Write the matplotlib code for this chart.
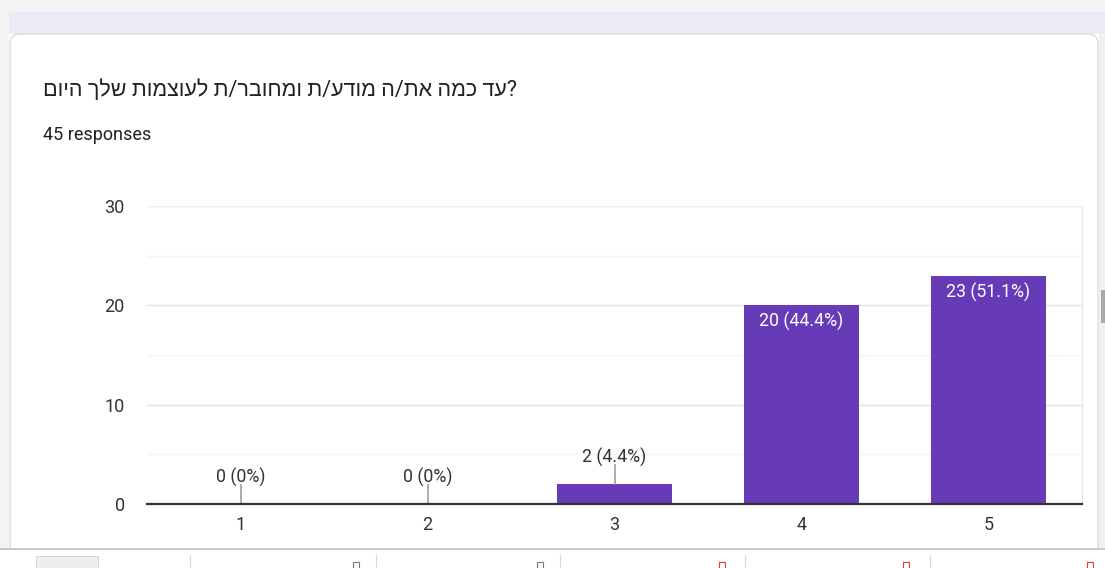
import matplotlib
matplotlib.use("Agg")
import matplotlib.pyplot as plt
from matplotlib.patches import FancyBboxPatch, Rectangle
from matplotlib.ticker import MultipleLocator

# ---- data ----
categories = ["1", "2", "3", "4", "5"]
counts = [0, 0, 2, 20, 23]
percents = ["0%", "0%", "4.4%", "44.4%", "51.1%"]
yticks = [0, 10, 20, 30]
title_logical = "עד כמה את/ה מודע/ת ומחובר/ת לעוצמות שלך היום"
subtitle = "45 responses"

FONTS = ["Roboto", "Liberation Sans", "DejaVu Sans"]
plt.rcParams["font.family"] = FONTS

W, H = 1105, 568
fig = plt.figure(figsize=(W / 100, H / 100), dpi=100)
fig.patch.set_facecolor("white")

# ---- background (page / card) in pixel coordinates ----
bg = fig.add_axes([0, 0, 1, 1], zorder=0)
bg.set_xlim(0, W)
bg.set_ylim(H, 0)
bg.axis("off")
bg.add_patch(Rectangle((0, 0), W, 14, facecolor="#f3f3f3", edgecolor="none"))
bg.add_patch(Rectangle((0, 12), W, 22, facecolor="#ede9f6", edgecolor="none"))
bg.add_patch(Rectangle((0, 12), 9, 540, facecolor="#f4f4f4", edgecolor="none"))
bg.add_patch(FancyBboxPatch((10, 34), 1088, 530, boxstyle="round,pad=0,rounding_size=10",
                            facecolor="white", edgecolor="#dadce0", linewidth=1.0))
bg.add_patch(Rectangle((1099, 34), 6, 520, facecolor="#f1f1f1", edgecolor="none"))
bg.add_patch(Rectangle((1101, 290), 4, 33, facecolor="#a9a9a9", edgecolor="none"))
# bottom toolbar strip
bg.add_patch(Rectangle((0, 548), W, 20, facecolor="white", edgecolor="none"))
bg.plot([0, W], [549, 549], color="#bdbdbd", lw=1.2)
for xs in [190, 376, 560, 745, 930]:
    bg.plot([xs, xs], [555, 568], color="#d8d8d8", lw=0.8)
bg.add_patch(Rectangle((36, 556), 62, 14, facecolor="#eeeeee", edgecolor="#d0d0d0", lw=0.6))
for xs, c in [(356, "#777777"), (540, "#777777"), (722, "#e53935"), (906, "#e53935"), (1090, "#e53935")]:
    bg.add_patch(Rectangle((xs - 3, 562), 6, 8, facecolor="none", edgecolor=c, lw=0.8))

title_visual = title_logical[::-1]
bg.text(43, 90, title_visual + "?", fontsize=15.5, color="#202124", va="center", ha="left",
        family=FONTS)
bg.text(43, 135, subtitle, fontsize=13, color="#202124", va="center", ha="left", family=FONTS)

# ---- chart ----
ax = fig.add_axes([147 / W, 1 - 504 / H, (1082 - 147) / W, (504 - 206) / H], zorder=1)
ax.set_facecolor("none")
x = list(range(len(categories)))
bar_w = 0.61
bars = ax.bar(x, counts, width=bar_w, color="#673ab7", zorder=3)

ax.set_xlim(-0.5, len(categories) - 0.5)
ax.set_ylim(0, 30)
ax.set_yticks(yticks)
ax.yaxis.set_minor_locator(MultipleLocator(5))
ax.grid(axis="y", which="major", color="#e3e3e3", lw=1.0, zorder=0)
ax.grid(axis="y", which="minor", color="#f4f4f4", lw=1.0, zorder=0)
ax.set_xticks(x)
ax.set_xticklabels(categories)
ax.tick_params(axis="both", which="both", length=0, labelsize=13, labelcolor="#333333")
ax.tick_params(axis="y", pad=16)
ax.tick_params(axis="x", pad=9)
ax.spines["left"].set_visible(False)
ax.spines["right"].set_color("#e6e6e6")
ax.spines["top"].set_color("#f0f0f0")
ax.spines["bottom"].set_color("#333333")
ax.spines["bottom"].set_linewidth(1.6)
ax.spines["bottom"].set_zorder(5)

for xi, c, p in zip(x, counts, percents):
    label = f"{c} ({p})"
    if c >= 5:
        ax.text(xi, c - 0.7, label, ha="center", va="top", color="white", fontsize=12.8, zorder=4)
    else:
        if c == 0:
            ax.plot([xi - bar_w / 2, xi + bar_w / 2], [0.05, 0.05], color="#9e9e9e", lw=1, zorder=3)
        ax.plot([xi, xi], [c, c + 1.95], color="#a0a0a0", lw=1.2, zorder=4)
        ax.text(xi, c + 1.75, label, ha="center", va="bottom", color="#333333", fontsize=12.8, zorder=4)

fig.savefig("out.png", dpi=100)
